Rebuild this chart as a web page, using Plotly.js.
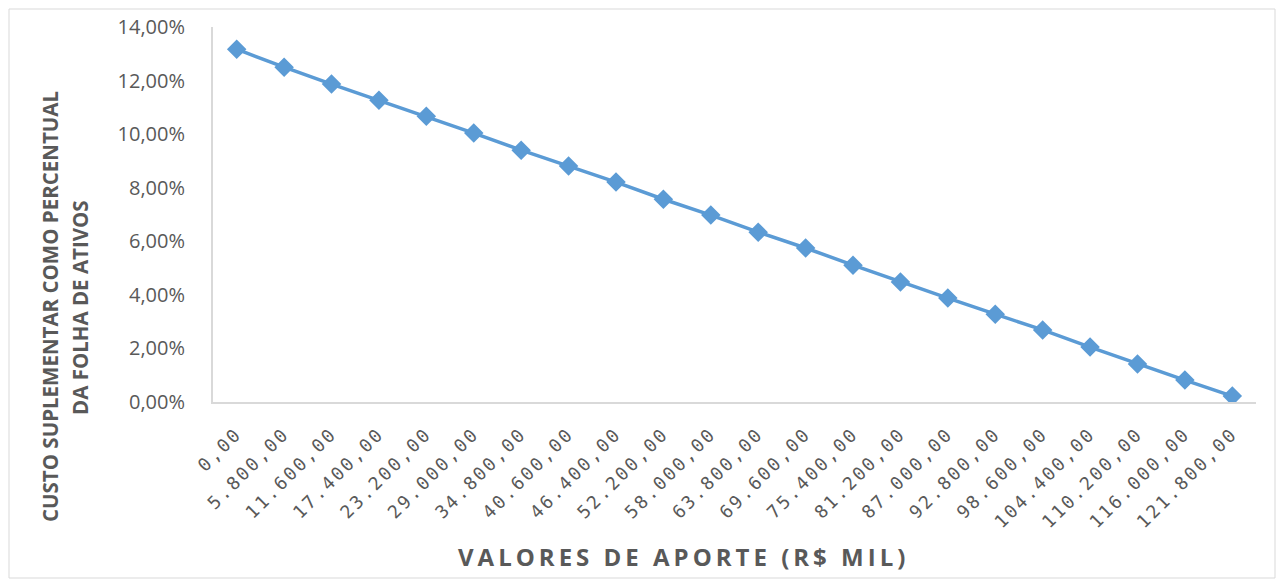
<!DOCTYPE html>
<html>
<head>
<meta charset="utf-8">
<script src="https://cdn.plot.ly/plotly-3.0.1.min.js"></script>
<style>
html,body{margin:0;padding:0;background:#fff;}
#chart{width:1276px;height:579px;}
.xtick text{letter-spacing:2.5px;}
.annotation[data-index="2"] .annotation-text{letter-spacing:4px;}
</style>
</head>
<body>
<div id="chart"></div>
<script>
var categories = ["0,00","5.800,00","11.600,00","17.400,00","23.200,00","29.000,00","34.800,00","40.600,00","46.400,00","52.200,00","58.000,00","63.800,00","69.600,00","75.400,00","81.200,00","87.000,00","92.800,00","98.600,00","104.400,00","110.200,00","116.000,00","121.800,00"];
var custoPct = [0.1317,0.1250,0.1187,0.1127,0.1067,0.1004,0.0940,0.0881,0.0821,0.0757,0.0698,0.0634,0.0575,0.0511,0.0448,0.0388,0.0328,0.0269,0.0205,0.0142,0.0082,0.0022];
var yTitleLines = ["CUSTO SUPLEMENTAR COMO PERCENTUAL", "DA FOLHA DE ATIVOS"];
var xTitle = "VALORES DE APORTE (R$ MIL)";

var L=213, R=1256, T=27, B=402;
var pw=R-L, ph=B-T;
function px(x){return (x-L)/pw;}
function py(y){return (B-y)/ph;}

var trace = {
  x: categories, y: custoPct, type:'scatter', mode:'lines+markers',
  line:{color:'#5B9BD5', width:3.5},
  marker:{symbol:'diamond', size:15, color:'#5B9BD5', line:{color:'#5B9BD5', width:0}},
  hoverinfo:'skip'
};

var yFont = {family:'"Open Sans", sans-serif', size:20.5, color:'#595959', weight:700};

var layout = {
  width:1276, height:579,
  margin:{l:L, r:1276-R, t:T, b:579-B},
  paper_bgcolor:'#fff', plot_bgcolor:'#fff',
  separators:',.',
  showlegend:false,
  font:{family:'"Open Sans", sans-serif', color:'#595959'},
  xaxis:{
    type:'category', range:[-0.5,21.5], fixedrange:true,
    showline:true, linecolor:'#d9d9d9', linewidth:2,
    showgrid:false, zeroline:false, ticks:'',
    tickangle:-45, ticklabelstandoff:12,
    tickfont:{family:'"DejaVu Sans Mono", monospace', size:18, color:'#595959'}
  },
  yaxis:{
    range:[0,0.14], dtick:0.02, tickformat:'.2%', fixedrange:true,
    showline:true, linecolor:'#d9d9d9', linewidth:2,
    showgrid:false, zeroline:false, ticks:'', ticklabelstandoff:22,
    tickfont:{family:'"Open Sans", sans-serif', size:20, color:'#595959'}
  },
  shapes:[{type:'rect', xref:'paper', yref:'paper', x0:px(9), x1:px(1275), y0:py(578), y1:py(9),
    line:{color:'#d9d9d9', width:1}, fillcolor:'rgba(0,0,0,0)', layer:'below'}],
  annotations:[
    {text:yTitleLines[0], xref:'paper', yref:'paper', x:px(50), y:py(307), textangle:-90,
     showarrow:false, xanchor:'center', yanchor:'middle', font:yFont},
    {text:yTitleLines[1], xref:'paper', yref:'paper', x:px(80), y:py(308), textangle:-90,
     showarrow:false, xanchor:'center', yanchor:'middle', font:yFont},
    {text:xTitle, xref:'paper', yref:'paper', x:px(683), y:py(556),
     showarrow:false, xanchor:'center', yanchor:'middle',
     font:{family:'"Open Sans", sans-serif', size:24, color:'#595959', weight:700}}
  ]
};
Plotly.newPlot('chart',[trace],layout,{displayModeBar:false, staticPlot:true});
</script>
</body>
</html>
